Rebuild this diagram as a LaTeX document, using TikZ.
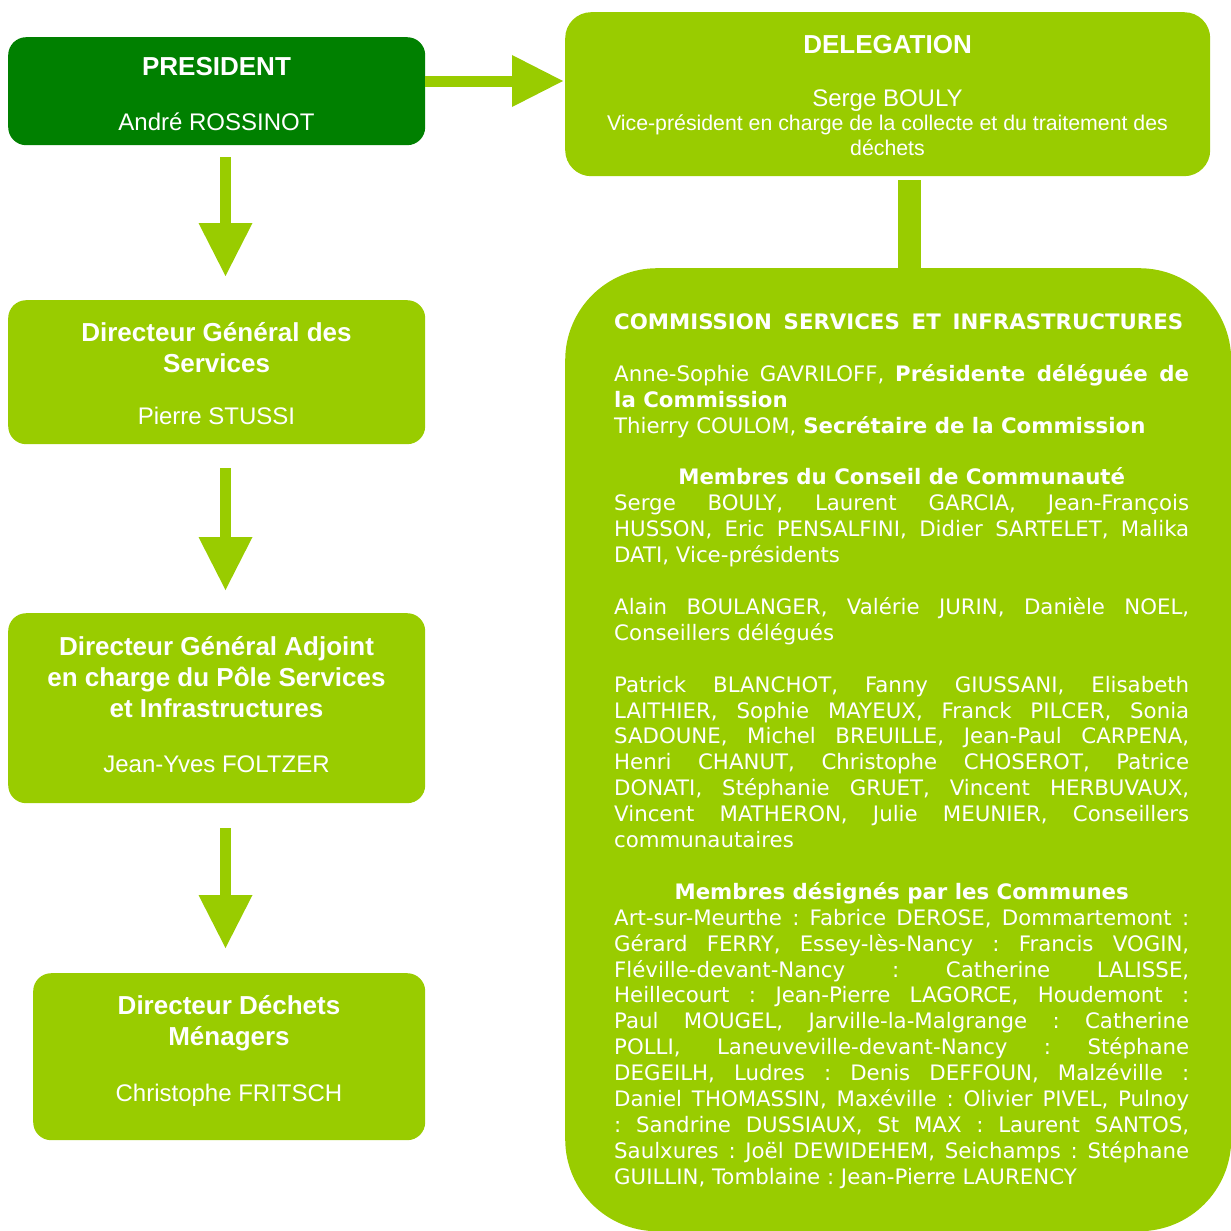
\documentclass[tikz,border=0pt]{standalone}
\usepackage{fontspec}
\setmainfont{Liberation Sans}
\newfontfamily\verd{DejaVu Sans}
\usetikzlibrary{arrows.meta}
\definecolor{dkgreen}{RGB}{0,128,0}
\definecolor{ltgreen}{RGB}{153,204,0}
\frenchspacing
\newcommand\jLn[1]{\makebox[575pt][s]{#1}\par}
\newcommand\lLn[1]{\makebox[575pt][l]{#1}\par}
\newcommand\cLn[1]{\makebox[575pt][c]{#1}\par}
\newcommand\bLn{\mbox{}\par}
\tikzset{
  box/.style={rounded corners=18pt, inner sep=0pt, anchor=north west},
  ttl/.style={text=white, font=\fontsize{26}{31}\selectfont\bfseries, inner sep=0pt, anchor=base},
  nm/.style={text=white, font=\fontsize{24}{28}\selectfont, inner sep=0pt, anchor=base},
  sub/.style={text=white, font=\fontsize{21.3}{25}\selectfont, inner sep=0pt, anchor=base},
  bigarrow/.style={draw=ltgreen, line width=11pt, -{Triangle[width=54pt,length=53pt,line width=0pt]}},
  bar/.style={draw=ltgreen, line width=23pt},
}
\begin{document}
\begin{tikzpicture}[x=1pt,y=-1pt]
\useasboundingbox (0,0) rectangle (1231,1231);
% boxes
\node[box, fill=dkgreen, minimum width=417pt, minimum height=108pt] (pres) at (8,37) {};
\node[box, fill=ltgreen, rounded corners=26pt, minimum width=645pt, minimum height=164pt] (deleg) at (565,12) {};
\node[box, fill=ltgreen, minimum width=417pt, minimum height=144pt] (dgs) at (8,300) {};
\node[box, fill=ltgreen, minimum width=417pt, minimum height=190pt] (dga) at (8,613) {};
\node[box, fill=ltgreen, minimum width=392pt, minimum height=167pt] (ddm) at (33,973) {};
\node[box, fill=ltgreen, rounded corners=92pt, minimum width=666pt, minimum height=963pt] (comm) at (565,268) {};
% texts
\node[ttl] (presT) at (216.5,76) {PRESIDENT};
\node[nm] (presN) at (216.5,130) {André ROSSINOT};
\node[ttl] (delegT) at (887.5,54) {DELEGATION};
\node[nm] (delegN) at (887.5,106.5) {Serge BOULY};
\node[sub] (delegS) at (887.5,130) {\parbox[t]{620pt}{\centering Vice-président en charge de la collecte et du traitement des\\déchets}};
\node[ttl] (dgsT) at (216.5,341) {\parbox[t]{417pt}{\centering Directeur Général des\\Services}};
\node[nm] (dgsN) at (216.5,424) {Pierre STUSSI};
\node[ttl] (dgaT) at (216.5,655) {\parbox[t]{417pt}{\centering Directeur Général Adjoint\\en charge du Pôle Services\\et Infrastructures}};
\node[nm] (dgaN) at (216.5,772.5) {Jean-Yves FOLTZER};
\node[ttl] (ddmT) at (229,1014) {\parbox[t]{392pt}{\centering Directeur Déchets\\Ménagers}};
\node[nm] (ddmN) at (229,1101.5) {Christophe FRITSCH};
\node[anchor=base west, inner sep=0pt, text=white, font=\verd\fontsize{21.3}{25.9}\selectfont] (commT) at (614,329.5) {\parbox[t]{575pt}{\setlength\parindent{0pt}\setlength\parskip{0pt}%
\makebox[569pt][s]{\textbf{COMMISSION SERVICES ET INFRASTRUCTURES}}\par
\bLn
\jLn{Anne-Sophie GAVRILOFF, \textbf{Présidente déléguée de}}
\lLn{\textbf{la Commission}}
\lLn{Thierry COULOM, \textbf{Secrétaire de la Commission}}
\bLn
\cLn{\textbf{Membres du Conseil de Communauté}}
\jLn{Serge BOULY, Laurent GARCIA, Jean-François}
\jLn{HUSSON, Eric PENSALFINI, Didier SARTELET, Malika}
\lLn{DATI, Vice-présidents}
\bLn
\jLn{Alain BOULANGER, Valérie JURIN, Danièle NOEL,}
\lLn{Conseillers délégués}
\bLn
\jLn{Patrick BLANCHOT, Fanny GIUSSANI, Elisabeth}
\jLn{LAITHIER, Sophie MAYEUX, Franck PILCER, Sonia}
\jLn{SADOUNE, Michel BREUILLE, Jean-Paul CARPENA,}
\jLn{Henri CHANUT, Christophe CHOSEROT, Patrice}
\jLn{DONATI, Stéphanie GRUET, Vincent HERBUVAUX,}
\jLn{Vincent MATHERON, Julie MEUNIER, Conseillers}
\lLn{communautaires}
\bLn
\cLn{\textbf{Membres désignés par les Communes}}
\jLn{Art-sur-Meurthe : Fabrice DEROSE, Dommartemont :}
\jLn{Gérard FERRY, Essey-lès-Nancy : Francis VOGIN,}
\jLn{Fléville-devant-Nancy : Catherine LALISSE,}
\jLn{Heillecourt : Jean-Pierre LAGORCE, Houdemont :}
\jLn{Paul MOUGEL, Jarville-la-Malgrange : Catherine}
\jLn{POLLI, Laneuveville-devant-Nancy : Stéphane}
\jLn{DEGEILH, Ludres : Denis DEFFOUN, Malzéville :}
\jLn{Daniel THOMASSIN, Maxéville : Olivier PIVEL, Pulnoy}
\jLn{: Sandrine DUSSIAUX, St MAX : Laurent SANTOS,}
\jLn{Saulxures : Joël DEWIDEHEM, Seichamps : Stéphane}
\lLn{GUILLIN, Tomblaine : Jean-Pierre LAURENCY}}};
% connectors
\coordinate (ax) at (225.5,0);
\coordinate (hy) at (0,81);
\coordinate (bx) at (909.5,0);
\coordinate (dbot) at ([yshift=-4pt]deleg.south);
\draw[bigarrow, shorten <=12pt, shorten >=24pt] (pres.south -| ax) -- (dgs.north -| ax);
\draw[bigarrow, shorten <=24pt, shorten >=23pt] (dgs.south -| ax) -- (dga.north -| ax);
\draw[bigarrow, shorten <=25pt, shorten >=25pt] (dga.south -| ax) -- (ddm.north -| ax);
\draw[draw=ltgreen, line width=11pt, -{Triangle[width=52pt,length=51pt,line width=0pt]}, shorten >=2pt] (pres.east |- hy) -- (deleg.west |- hy);
\draw[bar] (dbot -| bx) -- (comm.north -| bx);
\end{tikzpicture}
\end{document}
